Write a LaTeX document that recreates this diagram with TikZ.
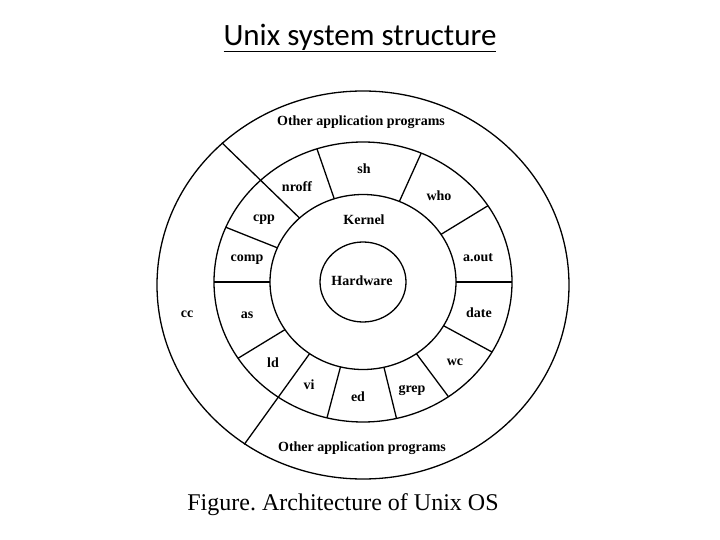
\documentclass[tikz,border=0pt]{standalone}
\usepackage{fontspec}
\setmainfont{Liberation Serif}
\newfontfamily\titlefont{Carlito}
\frenchspacing
\begin{document}
\begin{tikzpicture}[x=1pt,y=1pt,line width=1.3pt,
  lbl/.style={font=\fontsize{14}{16}\selectfont\bfseries,inner sep=0pt}]
\useasboundingbox (0,0) rectangle (720,-540);
\fill[white] (0,0) rectangle (720,-540);
\node[font=\titlefont\fontsize{31}{34}\selectfont,inner sep=0pt] (title) at (360,-38) {\underline{Unix system structure}};
\draw (363,-285) ellipse [x radius=206pt, y radius=194pt];
\draw (363,-282) ellipse [x radius=149pt, y radius=140pt];
\draw (363,-282) ellipse [x radius=93pt, y radius=87.5pt];
\draw (363,-282) ellipse [x radius=43pt, y radius=40pt];
\foreach \a in {108,67,33,0,-30,-55,-77,-104,-147,180,157}
  \draw ({363+93*cos(\a)},{-282+0.94*93*sin(\a)}) -- ({363+149*cos(\a)},{-282+0.94*149*sin(\a)});
\foreach \a in {133,-125}
  \draw ({363+93*cos(\a)},{-282+0.94*93*sin(\a)}) -- ({363+207*cos(\a)},{-285+0.94*207*sin(\a)});
\node[lbl] (oap1) at (361,-122) {Other application programs};
\node[lbl] (oap2) at (362,-448) {Other application programs};
\node[lbl] (sh) at (364,-169) {sh};
\node[lbl] (nroff) at (297,-187) {nroff};
\node[lbl] (who) at (439,-196) {who};
\node[lbl] (cpp) at (264,-220) {cpp};
\node[lbl] (kernel) at (364,-220) {Kernel};
\node[lbl] (comp) at (247,-260) {comp};
\node[lbl] (aout) at (478,-258) {a.out};
\node[lbl] (hw) at (362,-281) {Hardware};
\node[lbl] (cc) at (187,-314) {cc};
\node[lbl] (as) at (247,-315) {as};
\node[lbl] (date) at (479,-313) {date};
\node[lbl] (ld) at (273,-363) {ld};
\node[lbl] (wc) at (455,-362) {wc};
\node[lbl] (vi) at (309,-385) {vi};
\node[lbl] (ed) at (358,-397) {ed};
\node[lbl] (grep) at (412,-390) {grep};
\node[font=\fontsize{24}{28}\selectfont,inner sep=0pt] (cap) at (343,-505) {Figure. Architecture of Unix OS};
\end{tikzpicture}
\end{document}
